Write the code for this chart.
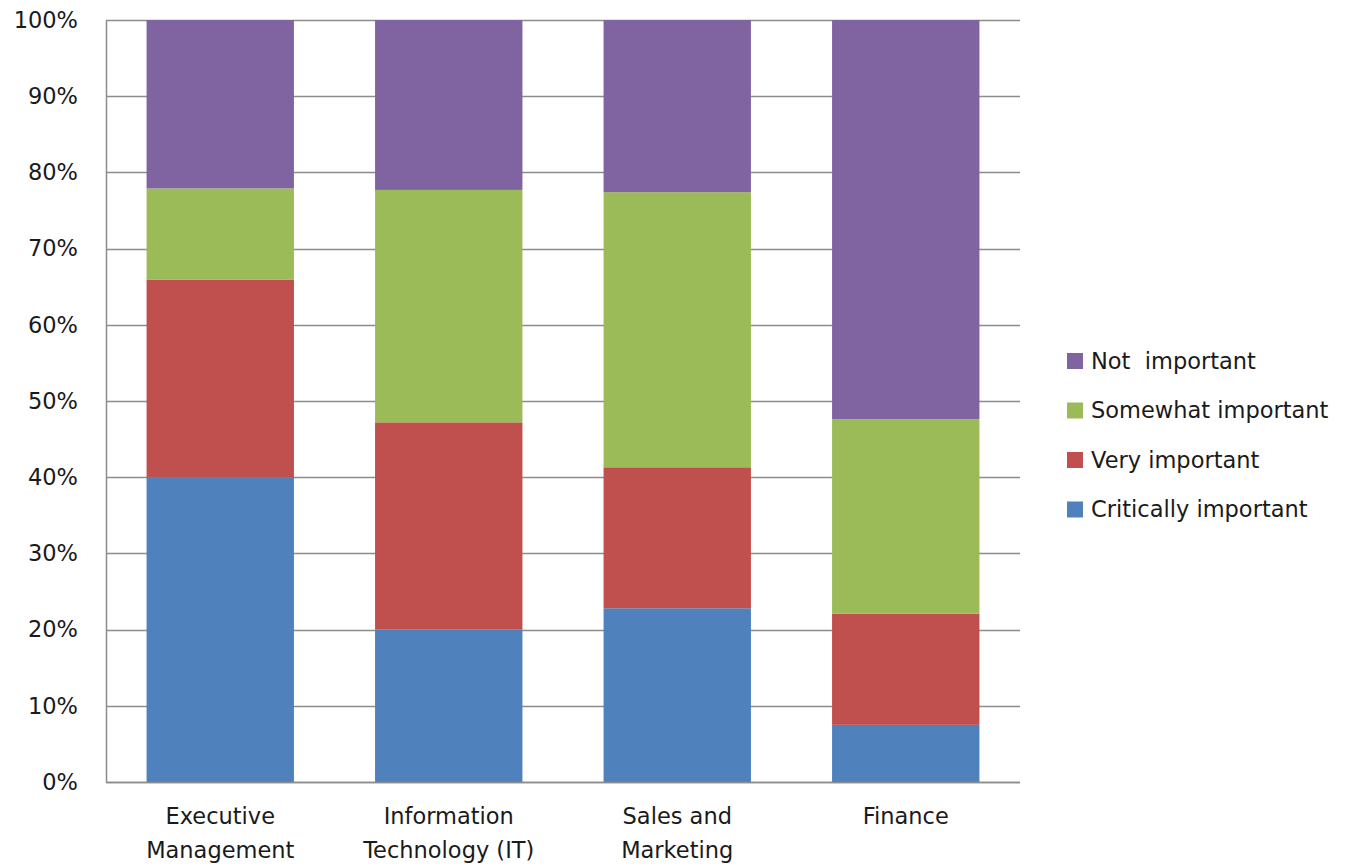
<!DOCTYPE html>
<html>
<head>
<meta charset="utf-8">
<script src="https://cdn.jsdelivr.net/npm/d3@7"></script>
<style>
  body { margin: 0; background: #fff; }
  text { font-family: "DejaVu Sans", sans-serif; fill: #1a1a1a; }
</style>
</head>
<body>
<div id="root"></div>
<script>
const width = 1353;
const height = 864;

const categories = [
  ["Executive", "Management"],
  ["Information", "Technology (IT)"],
  ["Sales and", "Marketing"],
  ["Finance"]
];
const seriesNames = ["Critically important", "Very important", "Somewhat important", "Not  important"];
const colors = ["#4f81bd", "#c0504d", "#9bbb59", "#8064a2"];

const critical = [40.0, 20.0, 22.8, 7.5];
const very = [25.9, 27.2, 18.5, 14.6];
const somewhat = [12.0, 30.5, 36.1, 25.5];
const notImportant = [22.1, 22.3, 22.6, 52.4];

const yTicks = [0, 10, 20, 30, 40, 50, 60, 70, 80, 90, 100];

const rows = categories.map((c, i) => ({
  key: i,
  s0: critical[i],
  s1: very[i],
  s2: somewhat[i],
  s3: notImportant[i]
}));

const stack = d3.stack().keys(["s0", "s1", "s2", "s3"]);
const stacked = stack(rows);

const margin = { top: 20, left: 106, right: 333, bottom: 82 };
const fontSize = 22.5;

const x = d3
  .scaleBand()
  .domain(rows.map((d) => d.key))
  .range([margin.left, width - margin.right])
  .paddingInner(0.355)
  .paddingOuter(0.1775);

const y = d3
  .scaleLinear()
  .domain([0, 100])
  .range([height - margin.bottom, margin.top]);

const svg = d3
  .select("#root")
  .append("svg")
  .attr("width", width)
  .attr("height", height);

// gridlines
svg
  .append("g")
  .selectAll("line")
  .data(yTicks)
  .join("line")
  .attr("x1", margin.left)
  .attr("x2", width - margin.right)
  .attr("y1", (d) => Math.round(y(d)) + 0.5)
  .attr("y2", (d) => Math.round(y(d)) + 0.5)
  .attr("stroke", "#8c8c8c")
  .attr("stroke-width", 1.3);

// bars
svg
  .append("g")
  .selectAll("g")
  .data(stacked)
  .join("g")
  .attr("fill", (d, i) => colors[i])
  .selectAll("rect")
  .data((d) => d)
  .join("rect")
  .attr("x", (d) => x(d.data.key))
  .attr("width", x.bandwidth())
  .attr("y", (d) => y(d[1]))
  .attr("height", (d) => y(d[0]) - y(d[1]));

// y axis
const yAxis = svg
  .append("g")
  .attr("transform", `translate(${margin.left},0)`)
  .call(
    d3
      .axisLeft(y)
      .tickValues(yTicks)
      .tickFormat((d) => d + "%")
      .tickSize(0)
      .tickPadding(28)
  );
yAxis.select(".domain").attr("stroke", "#8c8c8c").attr("stroke-width", 1.5);
yAxis
  .selectAll("text")
  .attr("font-size", fontSize)
  .style("font-family", "DejaVu Sans, sans-serif")
  .attr("fill", "#1a1a1a");

// x axis line
svg
  .append("line")
  .attr("x1", margin.left)
  .attr("x2", width - margin.right)
  .attr("y1", y(0) + 0.5)
  .attr("y2", y(0) + 0.5)
  .attr("stroke", "#8c8c8c")
  .attr("stroke-width", 1.5);

// category labels
const catLabels = svg
  .append("g")
  .selectAll("text")
  .data(rows)
  .join("text")
  .attr("x", (d) => x(d.key) + x.bandwidth() / 2)
  .attr("y", height - margin.bottom + 42)
  .attr("text-anchor", "middle")
  .attr("font-size", fontSize);
catLabels
  .selectAll("tspan")
  .data((d) => categories[d.key])
  .join("tspan")
  .attr("x", function () {
    return this.parentNode.getAttribute("x");
  })
  .attr("dy", (d, i) => (i === 0 ? 0 : 34))
  .text((d) => d);

// legend
const legendOrder = [3, 2, 1, 0];
const legend = svg
  .append("g")
  .selectAll("g")
  .data(legendOrder)
  .join("g")
  .attr("transform", (d, i) => `translate(1067, ${361 + i * 49.5})`);

legend
  .append("rect")
  .attr("x", 0)
  .attr("y", -8)
  .attr("width", 16)
  .attr("height", 16)
  .attr("fill", (d) => colors[d]);

legend
  .append("text")
  .attr("x", 24)
  .attr("dy", "0.35em")
  .attr("font-size", fontSize)
  .style("white-space", "pre")
  .text((d) => seriesNames[d]);
</script>
</body>
</html>
